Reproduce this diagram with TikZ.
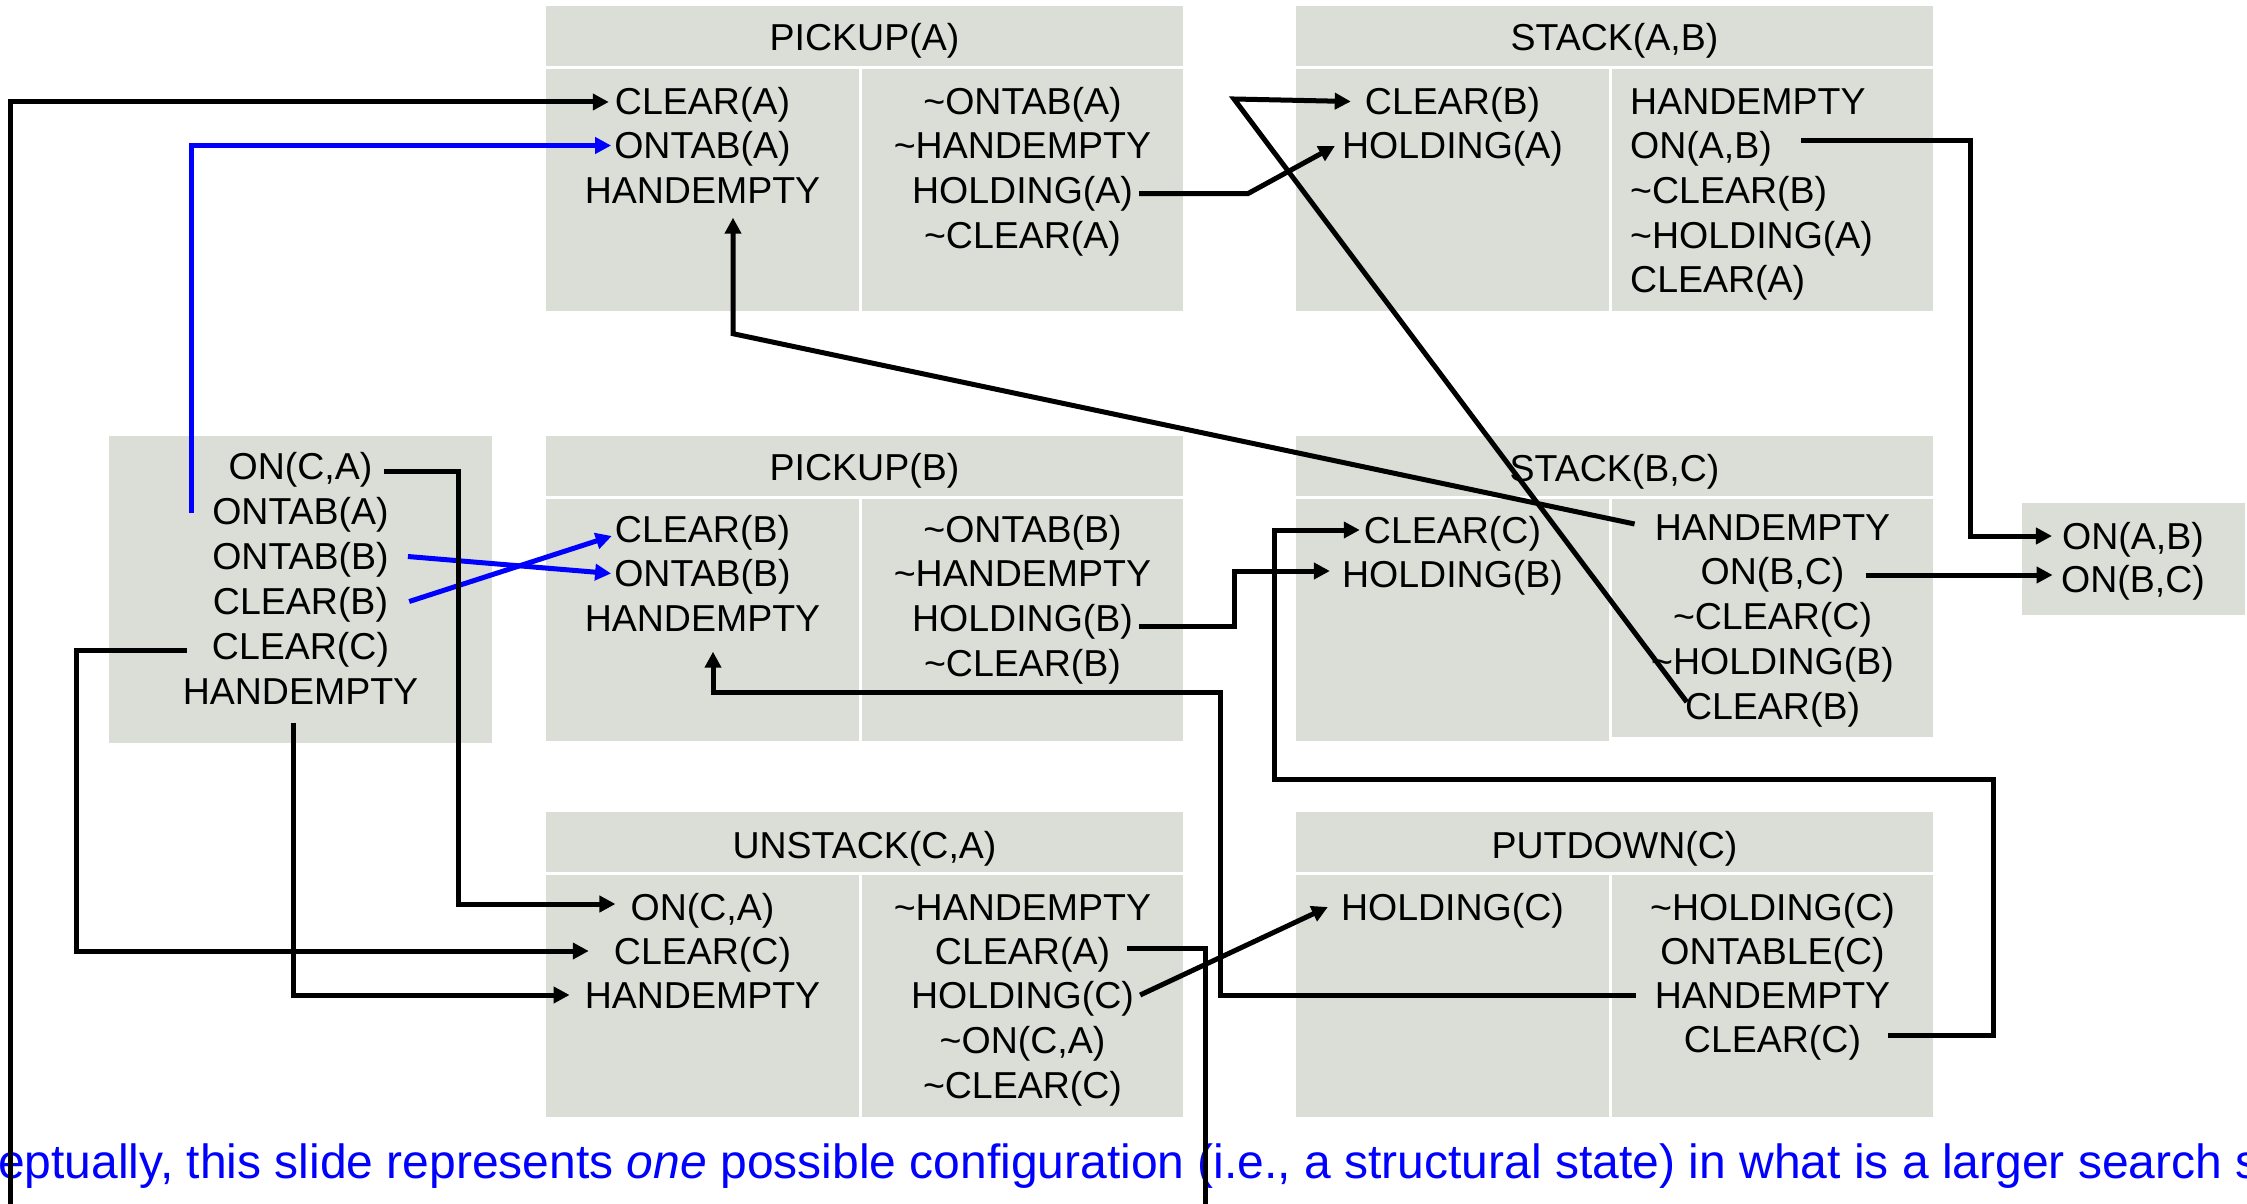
\documentclass[tikz,border=0pt]{standalone}
\usepackage{fontspec}
\setmainfont{Liberation Sans}
\usetikzlibrary{arrows.meta,calc}
\definecolor{boxfill}{RGB}{219,222,215}
\definecolor{noteblue}{RGB}{0,0,255}
\newcommand\negt{\textasciitilde}
\begin{document}
\begin{tikzpicture}[x=1pt,y=-1pt,
  lbl/.style={anchor=base, inner sep=0pt, text height=26pt, text depth=0pt,
    font=\fontsize{37.5}{45}\selectfont},
  lblw/.style={lbl, anchor=base west},
  plain/.style={line width=5pt, draw=black},
  link/.style={plain, -{Triangle[length=16pt,width=16pt]}},
  bluelink/.style={link, draw=noteblue, color=noteblue},
  panel/.style={fill=boxfill}]

\useasboundingbox[fill=white] (0,0) rectangle (2247,1204);

% ---------- operator panels ----------
% PICKUP(A)
\fill[panel] (546,6) rectangle (1183,66);
\fill[panel] (546,69) rectangle (859,311);
\fill[panel] (862,69) rectangle (1183,311);
% STACK(A,B)
\fill[panel] (1296,6) rectangle (1933,66);
\fill[panel] (1296,69) rectangle (1609,311);
\fill[panel] (1612,69) rectangle (1933,311);
% initial state
\fill[panel] (109,436) rectangle (492,743);
% PICKUP(B)
\fill[panel] (546,436) rectangle (1183,496);
\fill[panel] (546,499) rectangle (859,741);
\fill[panel] (862,499) rectangle (1183,741);
% STACK(B,C)
\fill[panel] (1296,436) rectangle (1933,496);
\fill[panel] (1296,499) rectangle (1609,741);
\fill[panel] (1612,499) rectangle (1933,737);
% goal
\fill[panel] (2022,503) rectangle (2245,615);
% UNSTACK(C,A)
\fill[panel] (546,812) rectangle (1183,872);
\fill[panel] (546,875) rectangle (859,1117);
\fill[panel] (862,875) rectangle (1183,1117);
% PUTDOWN(C)
\fill[panel] (1296,812) rectangle (1933,872);
\fill[panel] (1296,875) rectangle (1609,1117);
\fill[panel] (1612,875) rectangle (1933,1117);

% ---------- PICKUP(A) ----------
\node[lbl] (paT)  at (864.5,51)  {PICKUP(A)};
\node[lbl] (paP1) at (702.5,114.5) {CLEAR(A)};
\node[lbl] (paP2) at (702.5,159) {ONTAB(A)};
\node[lbl] (paP3) at (702.5,203.5) {HANDEMPTY};
\node[lbl] (paE1) at (1022.5,114.5) {\negt ONTAB(A)};
\node[lbl] (paE2) at (1022.5,159) {\negt HANDEMPTY};
\node[lbl] (paE3) at (1022.5,203.5) {HOLDING(A)};
\node[lbl] (paE4) at (1022.5,248) {\negt CLEAR(A)};

% ---------- STACK(A,B) ----------
\node[lbl] (sabT)  at (1614.5,51) {STACK(A,B)};
\node[lbl] (sabP1) at (1452.5,114.5) {CLEAR(B)};
\node[lbl] (sabP2) at (1452.5,159) {HOLDING(A)};
\node[lblw] (sabE1) at (1630,114.5) {HANDEMPTY};
\node[lblw] (sabE2) at (1630,159) {ON(A,B)};
\node[lblw] (sabE3) at (1630,203.5) {\negt CLEAR(B)};
\node[lblw] (sabE4) at (1630,248) {\negt HOLDING(A)};
\node[lblw] (sabE5) at (1630,292.5) {CLEAR(A)};

% ---------- initial state ----------
\node[lbl] (ini1) at (300.5,479.5) {ON(C,A)};
\node[lbl] (ini2) at (300.5,524.5) {ONTAB(A)};
\node[lbl] (ini3) at (300.5,569.5) {ONTAB(B)};
\node[lbl] (ini4) at (300.5,614.5) {CLEAR(B)};
\node[lbl] (ini5) at (300.5,659.5) {CLEAR(C)};
\node[lbl] (ini6) at (300.5,704.5) {HANDEMPTY};

% ---------- PICKUP(B) ----------
\node[lbl] (pbT)  at (864.5,480) {PICKUP(B)};
\node[lbl] (pbP1) at (702.5,542.5) {CLEAR(B)};
\node[lbl] (pbP2) at (702.5,586.5) {ONTAB(B)};
\node[lbl] (pbP3) at (702.5,631.5) {HANDEMPTY};
\node[lbl] (pbE1) at (1022.5,542.5) {\negt ONTAB(B)};
\node[lbl] (pbE2) at (1022.5,586.5) {\negt HANDEMPTY};
\node[lbl] (pbE3) at (1022.5,631.5) {HOLDING(B)};
\node[lbl] (pbE4) at (1022.5,676.5) {\negt CLEAR(B)};

% ---------- STACK(B,C) ----------
\node[lbl] (sbcT)  at (1614.5,481) {STACK(B,C)};
\node[lbl] (sbcP1) at (1452.5,543) {CLEAR(C)};
\node[lbl] (sbcP2) at (1452.5,587) {HOLDING(B)};
\node[lbl] (sbcE1) at (1772.5,540) {HANDEMPTY};
\node[lbl] (sbcE2) at (1772.5,584) {ON(B,C)};
\node[lbl] (sbcE3) at (1772.5,629) {\negt CLEAR(C)};
\node[lbl] (sbcE4) at (1772.5,674) {\negt HOLDING(B)};
\node[lbl] (sbcE5) at (1772.5,719) {CLEAR(B)};

% ---------- goal ----------
\node[lbl] (gl1) at (2133,549) {ON(A,B)};
\node[lbl] (gl2) at (2133,592) {ON(B,C)};

% ---------- UNSTACK(C,A) ----------
\node[lbl] (ucaT)  at (864.5,858) {UNSTACK(C,A)};
\node[lbl] (ucaP1) at (702.5,920) {ON(C,A)};
\node[lbl] (ucaP2) at (702.5,964) {CLEAR(C)};
\node[lbl] (ucaP3) at (702.5,1008) {HANDEMPTY};
\node[lbl] (ucaE1) at (1022.5,920) {\negt HANDEMPTY};
\node[lbl] (ucaE2) at (1022.5,964) {CLEAR(A)};
\node[lbl] (ucaE3) at (1022.5,1008) {HOLDING(C)};
\node[lbl] (ucaE4) at (1022.5,1053) {\negt ON(C,A)};
\node[lbl] (ucaE5) at (1022.5,1098) {\negt CLEAR(C)};

% ---------- PUTDOWN(C) ----------
\node[lbl] (pdT)  at (1614.5,858) {PUTDOWN(C)};
\node[lbl] (pdP1) at (1452.5,920) {HOLDING(C)};
\node[lbl] (pdE1) at (1772.5,920) {\negt HOLDING(C)};
\node[lbl] (pdE2) at (1772.5,964) {ONTABLE(C)};
\node[lbl] (pdE3) at (1772.5,1008) {HANDEMPTY};
\node[lbl] (pdE4) at (1772.5,1052) {CLEAR(C)};

% ---------- caption ----------
\node[anchor=base west, inner sep=0pt, text=noteblue,
      font=\fontsize{48}{56}\selectfont] (note) at (-2,1178)
  {eptually, this slide represents \textit{one} possible configuration (i.e., a structural state) in what is a larger search s};

% ---------- links ----------
\coordinate (edgeL) at (10,1204);
\coordinate (edgeR) at (1205,1204);
\coordinate (bendA) at (1234,99);

\draw[link] (edgeL) |- ([xshift=-6pt,yshift=-0.5pt]paP1.west);
\draw[bluelink] ([xshift=-21pt,yshift=-1pt]ini2.west) |- ([xshift=-3pt,yshift=0.5pt]paP2.west);
\draw[bluelink] ([xshift=19pt]ini3.east) -- ([xshift=-3pt]pbP2.west);
\draw[bluelink] ([xshift=21pt]ini4.east) -- ([xshift=-3pt,yshift=-6.5pt]pbP1.west);

\draw[link] ([xshift=11pt,yshift=-4.5pt]ini1.east) -- ++(75,0) |- ([xshift=-15pt,yshift=3pt]ucaP1.west);
\draw[link] ([xshift=-25pt,yshift=-3.5pt]ini5.west) -- ++(-110,0) |- ([xshift=-25pt]ucaP2.west);
\draw[link] ([xshift=-7.5pt,yshift=-18.5pt]ini6.south) |- ([xshift=-15pt]ucaP3.west);

\draw[link] ([xshift=6pt,yshift=-3pt]paE3.east) -- ++(109,0) -- ([xshift=-7pt]sabP2.west);
\draw[link] ([xshift=2pt,yshift=4pt]sbcE5.west) -- (bendA) -- ([xshift=-14pt]sabP1.west);
\draw[link] ([xshift=-20pt,yshift=3pt]sbcE1.west) -- ($(paP3.south)+(30.5,130)$) -- ++(0,-116);
\draw[link] ([xshift=29pt,yshift=5.5pt]sabE2.east) -- ++(169,0) |- ([xshift=-10pt]gl1.west);
\draw[link] ([xshift=21pt,yshift=-4pt]sbcE2.east) -- ++(187,0);
\draw[link] ([xshift=6pt,yshift=-8pt]pbE3.east) -- ++(95,0) |- ([xshift=-12pt,yshift=3pt]sbcP2.west);
\draw[link] ([xshift=27pt,yshift=4pt]pdE4.east) -- ++(105,0) |- (1274,779) |- ([xshift=-4pt]sbcP1.west);
\draw[link] ([xshift=-19pt]pdE3.west) -| (1220,692) -| ([xshift=10.5pt,yshift=-20pt]pbP3.south);
\draw[plain] ([xshift=17pt,yshift=3pt]ucaE2.east) -| (edgeR);
\draw[link] ([xshift=6pt]ucaE3.east) -- ([xshift=-13pt]pdP1.west);

\end{tikzpicture}
\end{document}
